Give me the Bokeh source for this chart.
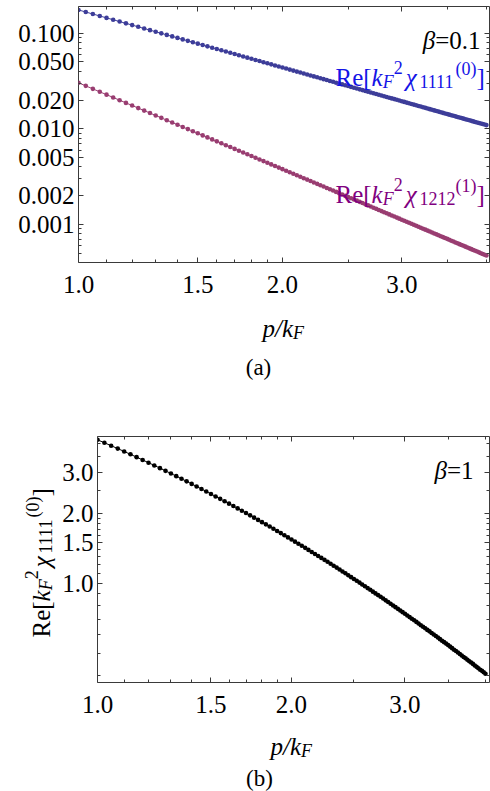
import math
from bokeh.plotting import figure
from bokeh.models import LogAxis, FixedTicker, PrintfTickFormatter, CustomJSTickFormatter, Label, Range1d
from bokeh.layouts import column, row
from bokeh.embed import file_html
from bokeh.resources import INLINE

# ---------------- data ----------------
P = [1.000, 1.025, 1.050, 1.075, 1.100, 1.125, 1.150, 1.175, 1.200, 1.225,
     1.250, 1.275, 1.300, 1.325, 1.350, 1.375, 1.400, 1.425, 1.450, 1.475,
     1.500, 1.525, 1.550, 1.575, 1.600, 1.625, 1.650, 1.675, 1.700, 1.725,
     1.750, 1.775, 1.800, 1.825, 1.850, 1.875, 1.900, 1.925, 1.950, 1.975,
     2.000, 2.025, 2.050, 2.075, 2.100, 2.125, 2.150, 2.175, 2.200, 2.225,
     2.250, 2.275, 2.300, 2.325, 2.350, 2.375, 2.400, 2.425, 2.450, 2.475,
     2.500, 2.525, 2.550, 2.575, 2.600, 2.625, 2.650, 2.675, 2.700, 2.725,
     2.750, 2.775, 2.800, 2.825, 2.850, 2.875, 2.900, 2.925, 2.950, 2.975,
     3.000, 3.025, 3.050, 3.075, 3.100, 3.125, 3.150, 3.175, 3.200, 3.225,
     3.250, 3.275, 3.300, 3.325, 3.350, 3.375, 3.400, 3.425, 3.450, 3.475,
     3.500, 3.525, 3.550, 3.575, 3.600, 3.625, 3.650, 3.675, 3.700, 3.725,
     3.750, 3.775, 3.800, 3.825, 3.850, 3.875, 3.900, 3.925, 3.950, 3.975,
     4.000]

# panel (a), beta = 0.1 : Re[kF^2 chi_1111^(0)]
CHI1111_B01 = [0.1750, 0.16657, 0.15873, 0.15143, 0.14463, 0.13827, 0.13233, 0.12675, 0.12153, 0.11662,
               0.11200, 0.10765, 0.10355, 0.09968, 0.09602, 0.09256, 0.08929, 0.08618, 0.08323, 0.08044,
               0.07778, 0.07525, 0.07284, 0.07055, 0.06836, 0.06627, 0.06428, 0.06237, 0.06055, 0.05881,
               0.05714, 0.05554, 0.05401, 0.05254, 0.05113, 0.04978, 0.04848, 0.04723, 0.04602, 0.04486,
               0.04375, 0.04268, 0.04164, 0.04064, 0.03968, 0.03875, 0.03786, 0.03699, 0.03616, 0.03535,
               0.03457, 0.03381, 0.03308, 0.03237, 0.03169, 0.03102, 0.03038, 0.02976, 0.02915, 0.02857,
               0.02800, 0.02745, 0.02691, 0.02639, 0.02589, 0.02540, 0.02492, 0.02446, 0.02401, 0.02357,
               0.02314, 0.02273, 0.02232, 0.02193, 0.02155, 0.02117, 0.02081, 0.02045, 0.02011, 0.01977,
               0.01944, 0.01912, 0.01881, 0.01851, 0.01821, 0.01792, 0.01764, 0.01736, 0.01709, 0.01683,
               0.01657, 0.01632, 0.01607, 0.01583, 0.01559, 0.01536, 0.01514, 0.01492, 0.01470, 0.01449,
               0.01429, 0.01408, 0.01389, 0.01369, 0.01350, 0.01332, 0.01314, 0.01296, 0.01278, 0.01261,
               0.01244, 0.01228, 0.01212, 0.01196, 0.01181, 0.01165, 0.01151, 0.01136, 0.01122, 0.01108,
               0.01094]

# panel (a), beta = 0.1 : Re[kF^2 chi_1212^(1)]
CHI1212_B01 = [0.03030, 0.028137, 0.026174, 0.024391, 0.022765, 0.021281, 0.019923, 0.018678, 0.017535, 0.016483,
               0.015514, 0.014619, 0.013792, 0.013026, 0.012315, 0.011656, 0.011042, 0.010471, 0.009939, 0.009442,
               0.008978, 0.008543, 0.008137, 0.007755, 0.007397, 0.007061, 0.006745, 0.006448, 0.006167, 0.005903,
               0.005654, 0.005418, 0.005195, 0.004985, 0.004785, 0.004597, 0.004418, 0.004248, 0.004086, 0.003933,
               0.003788, 0.003649, 0.003517, 0.003391, 0.003272, 0.003158, 0.003049, 0.002945, 0.002846, 0.002751,
               0.002660, 0.002573, 0.002490, 0.002411, 0.002335, 0.002262, 0.002192, 0.002125, 0.002060, 0.001999,
               0.001939, 0.001882, 0.001827, 0.001775, 0.001724, 0.001675, 0.001628, 0.001583, 0.001539, 0.001497,
               0.001457, 0.001418, 0.001380, 0.001344, 0.001309, 0.001275, 0.001242, 0.001211, 0.001180, 0.001151,
               0.001122, 0.001095, 0.001068, 0.001042, 0.001017, 0.000993, 0.000969, 0.000947, 0.000925, 0.000903,
               0.000883, 0.000863, 0.000843, 0.000824, 0.000806, 0.000788, 0.000771, 0.000754, 0.000738, 0.000722,
               0.000707, 0.000692, 0.000677, 0.000663, 0.000649, 0.000636, 0.000623, 0.000610, 0.000598, 0.000586,
               0.000575, 0.000563, 0.000552, 0.000541, 0.000531, 0.000521, 0.000511, 0.000501, 0.000492, 0.000482,
               0.000473]

# panel (b), beta = 1 : Re[kF^2 chi_1111^(0)]
CHI1111_B1 = [4.135, 4.016, 3.901, 3.791, 3.684, 3.582, 3.483, 3.388, 3.297, 3.209,
              3.124, 3.042, 2.963, 2.886, 2.813, 2.741, 2.673, 2.606, 2.542, 2.480,
              2.420, 2.361, 2.305, 2.251, 2.198, 2.147, 2.097, 2.049, 2.003, 1.958,
              1.914, 1.872, 1.830, 1.791, 1.752, 1.714, 1.678, 1.642, 1.607, 1.574,
              1.541, 1.509, 1.479, 1.449, 1.419, 1.391, 1.363, 1.336, 1.310, 1.285,
              1.260, 1.236, 1.212, 1.189, 1.167, 1.145, 1.123, 1.103, 1.082, 1.062,
              1.043, 1.024, 1.006, 0.988, 0.971, 0.953, 0.937, 0.920, 0.904, 0.889,
              0.874, 0.859, 0.844, 0.830, 0.816, 0.802, 0.789, 0.776, 0.763, 0.751,
              0.739, 0.727, 0.715, 0.704, 0.693, 0.682, 0.671, 0.660, 0.650, 0.640,
              0.630, 0.621, 0.611, 0.602, 0.593, 0.584, 0.575, 0.566, 0.558, 0.550,
              0.542, 0.534, 0.526, 0.518, 0.511, 0.504, 0.496, 0.489, 0.482, 0.476,
              0.469, 0.462, 0.456, 0.450, 0.443, 0.437, 0.431, 0.425, 0.420, 0.414,
              0.408]

X_TICKS = [1.0, 1.5, 2.0, 3.0]
X_MINOR = [1.1, 1.2, 1.3, 1.4, 1.6, 1.7, 1.8, 1.9, 2.5, 3.5, 4.0]
YA_TICKS = [0.001, 0.002, 0.005, 0.01, 0.02, 0.05, 0.1]
YA_MINOR = [0.0005, 0.0006, 0.0007, 0.0008, 0.0009, 0.003, 0.004, 0.006, 0.007, 0.008, 0.009,
            0.03, 0.04, 0.06, 0.07, 0.08, 0.09]
YB_TICKS = [1.0, 1.5, 2.0, 3.0]
YB_MINOR = [0.4, 0.5, 0.6, 0.7, 0.8, 0.9, 1.1, 1.2, 1.3, 1.4, 1.6, 1.7, 1.8, 1.9, 2.5, 3.5, 4.0]

# ---------------- styling ----------------
FONT = "Liberation Serif"
FRAME = "#3a3a3a"
C_BLUE = "#3d3d99"
C_PURPLE = "#993d71"
T_BLUE = "#1414e6"
T_PURPLE = "#800080"

W_REG = {'R': 0.667, 'e': 0.444, '[': 0.333, ']': 0.333, '(': 0.333, ')': 0.333,
         '.': 0.25, '=': 0.564, '/': 0.278}
W_IT = {'k': 0.444, 'F': 0.611, 'p': 0.5, '/': 0.278, 'χ': 0.55, 'β': 0.5}


def run_width(text, size, italic):
    table = W_IT if italic else W_REG
    return sum(table.get(ch, 0.5) for ch in text) * size


def rich(fig, x, y, runs, color, angle=0.0):
    ca, sa = math.cos(angle), math.sin(angle)
    adv = 0.0
    for text, size, dy, italic, gap in runs:
        adv += gap
        px = x + adv * ca - dy * sa
        py = y + adv * sa + dy * ca
        fig.add_layout(Label(x=px, y=py, x_units="screen", y_units="screen", text=text,
                             angle=angle, text_font=FONT, text_font_size=f"{size}px",
                             text_font_style="italic" if italic else "normal",
                             text_color=color, text_baseline="alphabetic", text_align="left"))
        adv += run_width(text, size, italic)


def chi_runs(sub, sup):
    S, s = 25, 18
    return [("Re[", S, 0, False, 0), ("k", S, 0, True, 0), ("F", s, -4, True, 0),
            ("2", s, 10, False, 0), ("χ", S, 0, True, 3), (sub, s, -4, False, 0),
            (sup, s, 9, False, 0), ("]", S, 0, False, 0)]


def pk_runs():
    return [("p/k", 25, 0, True, 0), ("F", 18, -4, True, 0)]


def style_axis(ax, ticks, minor, fmt):
    ax.ticker = FixedTicker(ticks=ticks, minor_ticks=minor)
    ax.axis_label = None
    ax.axis_label_standoff = 0
    ax.axis_label_text_font_size = "0px"
    if fmt is None:
        ax.formatter = CustomJSTickFormatter(code="return ''")
        ax.major_label_text_font_size = "0px"
        ax.major_label_standoff = 0
    else:
        ax.formatter = PrintfTickFormatter(format=fmt)
        ax.major_label_text_font_size = "25px"
        ax.major_label_text_font = FONT
        ax.major_label_text_color = "black"
    ax.axis_line_color = None
    ax.major_tick_in = 5
    ax.major_tick_out = 0
    ax.minor_tick_in = 3
    ax.minor_tick_out = 0
    ax.major_tick_line_color = FRAME
    ax.minor_tick_line_color = FRAME


def make_fig(width, height, xr, yr, left, top, bottom, xt, xm, yt, ym, yfmt):
    p = figure(width=width, height=height, x_axis_type="log", y_axis_type="log",
               x_range=Range1d(*xr), y_range=Range1d(*yr),
               output_backend="svg", toolbar_location=None,
               min_border_left=left, min_border_right=1, min_border_top=top,
               min_border_bottom=bottom)
    p.grid.visible = False
    p.outline_line_color = FRAME
    p.outline_line_width = 1
    p.background_fill_color = "white"
    p.border_fill_color = "white"
    style_axis(p.xaxis[0], xt, xm, "%.1f")
    p.xaxis[0].major_label_standoff = 13
    style_axis(p.yaxis[0], yt, ym, yfmt)
    p.yaxis[0].major_label_standoff = 4
    ra = LogAxis()
    style_axis(ra, yt, ym, None)
    p.add_layout(ra, "right")
    ta = LogAxis()
    style_axis(ta, xt, xm, None)
    p.add_layout(ta, "above")
    return p


def text_fig(width, height):
    f = figure(width=width, height=height, x_axis_type=None, y_axis_type=None,
               x_range=Range1d(0, 1), y_range=Range1d(0, 1),
               output_backend="svg", toolbar_location=None, min_border=0)
    f.outline_line_color = None
    f.background_fill_color = "white"
    f.border_fill_color = "white"
    return f


# ---------------- panel (a) ----------------
pa = make_fig(490, 306, (1.0, 4.042), (0.0004003, 0.1902), 78, 6, 44,
              X_TICKS, X_MINOR, YA_TICKS, YA_MINOR, "%.3f")
pa.line(P, CHI1111_B01, line_color=C_BLUE, line_width=1)
pa.scatter(P, CHI1111_B01, size=4.6, fill_color=C_BLUE, line_color=None)
pa.line(P, CHI1212_B01, line_color=C_PURPLE, line_width=1)
pa.scatter(P, CHI1212_B01, size=4.6, fill_color=C_PURPLE, line_color=None)

rich(pa, 257, 185, chi_runs("1111", "(0)"), T_BLUE)
rich(pa, 257, 68, chi_runs("1212", "(1)"), T_PURPLE)
pa.add_layout(Label(x=402, y=222, x_units="screen", y_units="screen", text="=0.1",
                    text_font=FONT, text_font_size="25px", text_align="right",
                    text_baseline="alphabetic", text_color="black"))
pa.add_layout(Label(x=402 - run_width("=0.1", 25, False), y=222, x_units="screen", y_units="screen",
                    text="β", text_font=FONT, text_font_size="25px", text_font_style="italic",
                    text_align="right", text_baseline="alphabetic", text_color="black"))

# caption strip (a); its frame is aligned by the column with panel (a)'s frame (left at 78 px)
ta = text_fig(490, 94)
rich(ta, 184, 72, pk_runs(), "black")
ta.add_layout(Label(x=180, y=33, x_units="screen", y_units="screen", text="(a)",
                    text_font=FONT, text_font_size="23px", text_align="center",
                    text_baseline="alphabetic", text_color="black"))

# ---------------- panel (b) ----------------
# y-label strip; its frame is aligned by the row with panel (b)'s frame (bottom at 682 px)
yl = text_fig(56, 324)
rich(yl, 41, 45, chi_runs("1111", "(0)"), "black", angle=math.pi / 2)

pb = make_fig(434, 324, (1.0, 4.058), (0.3743, 4.273), 41, 36, 42,
              X_TICKS, X_MINOR, YB_TICKS, YB_MINOR, "%.1f")
pb.line(P, CHI1111_B1, line_color="black", line_width=1)
pb.scatter(P, CHI1111_B1, size=4.6, fill_color="black", line_color=None)
pb.add_layout(Label(x=376, y=212, x_units="screen", y_units="screen", text="=1",
                    text_font=FONT, text_font_size="25px", text_align="right",
                    text_baseline="alphabetic", text_color="black"))
pb.add_layout(Label(x=376 - run_width("=1", 25, False), y=212, x_units="screen", y_units="screen",
                    text="β", text_font=FONT, text_font_size="25px", text_font_style="italic",
                    text_align="right", text_baseline="alphabetic", text_color="black"))

tb = text_fig(490, 67)
rich(tb, 192, 45, pk_runs(), "black")
tb.add_layout(Label(x=181, y=13, x_units="screen", y_units="screen", text="(b)",
                    text_font=FONT, text_font_size="23px", text_align="center",
                    text_baseline="alphabetic", text_color="black"))

layout = column(pa, ta, row(yl, pb), tb)
open("out.html", "w").write(file_html(layout, INLINE))
